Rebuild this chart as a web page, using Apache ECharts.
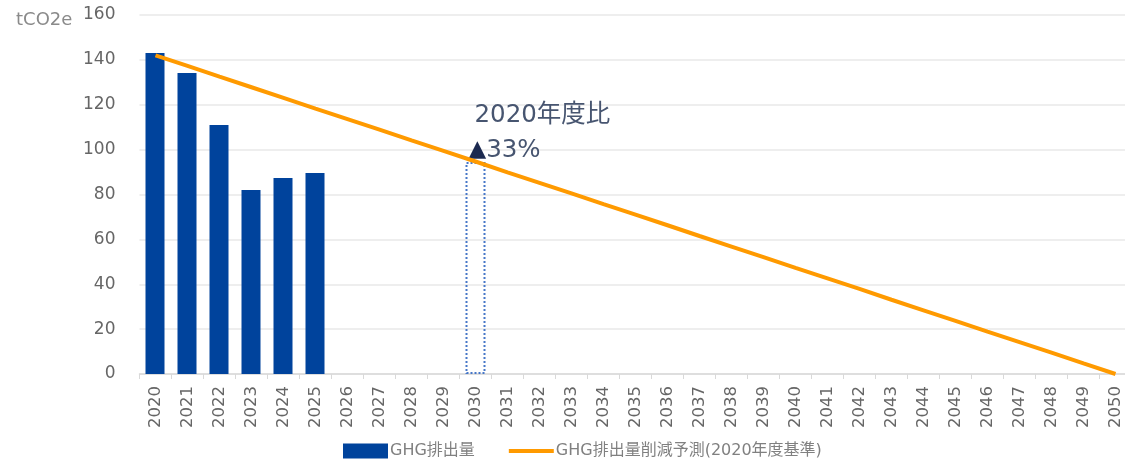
<!DOCTYPE html>
<html>
<head>
<meta charset="utf-8">
<script src="https://cdn.jsdelivr.net/npm/echarts@6/dist/echarts.min.js"></script>
<style>
html,body{margin:0;padding:0;background:#fff;}
#c{width:1125px;height:470px;}
</style>
</head>
<body>
<div id="c"></div>
<script>
const years = ['2020','2021','2022','2023','2024','2025','2026','2027','2028','2029','2030','2031','2032','2033','2034','2035','2036','2037','2038','2039','2040','2041','2042','2043','2044','2045','2046','2047','2048','2049','2050'];
const emissions = [143.1, 134.1, 111, 82, 87.4, 89.6, null, null, null, null, null, null, null, null, null, null, null, null, null, null, null, null, null, null, null, null, null, null, null, null, null];
const forecast = [142, 137.3, 132.5, 127.8, 123.1, 118.3, 113.6, 108.9, 104.1, 99.4, 94.7, 89.9, 85.2, 80.5, 75.7, 71, 66.3, 61.5, 56.8, 52.1, 47.3, 42.6, 37.9, 33.1, 28.4, 23.7, 18.9, 14.2, 9.5, 4.7, 0];
const target2030 = [null, null, null, null, null, null, null, null, null, null, 94.5, null, null, null, null, null, null, null, null, null, null, null, null, null, null, null, null, null, null, null, null];
const yTicks = [0, 20, 40, 60, 80, 100, 120, 140, 160];
const unitLabel = 'tCO2e';
const seriesNames = ['GHG排出量', 'GHG排出量削減予測(2020年度基準)'];
const noteLines = ['2020年度比', '33%'];

const FONT = '"DejaVu Sans", "Noto Sans CJK JP", sans-serif';
const chart = echarts.init(document.getElementById('c'), null, {renderer: 'canvas'});
chart.setOption({
  animation: false,
  backgroundColor: '#ffffff',
  textStyle: {fontFamily: FONT},
  title: {
    text: unitLabel, left: 11, top: 6,
    textStyle: {fontSize: 18, fontWeight: 'normal', color: '#8a8a8a', fontFamily: FONT}
  },
  grid: {left: 139.5, top: 15, width: 992, height: 359, containLabel: false, outerBoundsMode: 'none'},
  legend: {
    bottom: 6, left: 338,
    itemGap: 34, itemWidth: 45, itemHeight: 15,
    textStyle: {fontSize: 16, color: '#808080', fontFamily: FONT, padding: [0,0,0,-3]},
    data: [
      {name: seriesNames[0], icon: 'rect'},
      {name: seriesNames[1], icon: 'path://M0,0L0.01,0L0,0.01Z M0,15L0.01,15L0,15.01Z M0,5.5L45,5.5L45,9.5L0,9.5Z'}
    ]
  },
  xAxis: {
    type: 'category',
    data: years,
    boundaryGap: true,
    axisLine: {show: true, lineStyle: {color: '#d9d9d9', width: 1.5}},
    axisTick: {show: true, length: 5, lineStyle: {color: '#d9d9d9'}},
    axisLabel: {rotate: 90, fontSize: 16.5, color: '#666666', margin: 12, interval: 0, fontFamily: FONT}
  },
  yAxis: {
    type: 'value', min: 0, max: 160, interval: 20,
    axisLine: {show: false}, axisTick: {show: false},
    axisLabel: {fontSize: 17, color: '#666666', margin: 24, fontFamily: FONT,
      formatter: v => yTicks.includes(v) ? String(v) : ''},
    splitLine: {lineStyle: {color: '#e8e8e8', width: 1.5}}
  },
  series: [
    {
      name: seriesNames[0], type: 'bar', data: emissions, barWidth: 19, barGap: '-100%',
      itemStyle: {color: '#00439C'}
    },
    {
      name: 'target', type: 'bar', data: target2030, barWidth: 20, barGap: '-100%',
      itemStyle: {color: 'rgba(0,0,0,0)', borderColor: '#4677c8', borderWidth: 2, borderType: [2, 2]},
      label: {
        show: true, position: 'top', align: 'left', distance: -6, offset: [-7, 0],
        formatter: () => '{s|}{a|' + noteLines[0] + '}\n{t|▲}{a|' + noteLines[1] + '}',
        rich: {
          s: {width: 6, lineHeight: 35},
          a: {fontSize: 24.5, color: '#475570', fontFamily: FONT, lineHeight: 35},
          t: {fontSize: 23, color: '#1c2a50', fontFamily: FONT, lineHeight: 35}
        }
      },
      z: 1
    },
    {
      name: seriesNames[1], type: 'line', data: forecast, symbol: 'none', showSymbol: false,
      lineStyle: {color: '#FF9A00', width: 4}, itemStyle: {color: '#FF9A00'}, z: 5
    }
  ]
});
</script>
</body>
</html>
